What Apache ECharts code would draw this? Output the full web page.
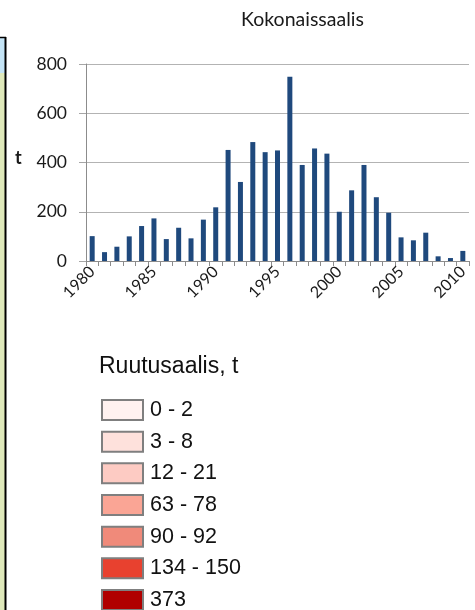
<!DOCTYPE html>
<html>
<head>
<meta charset="utf-8">
<script src="https://cdn.jsdelivr.net/npm/echarts@6/dist/echarts.min.js"></script>
<style>
  html, body { margin: 0; padding: 0; background: #fff; }
  #chart { width: 475px; height: 610px; }
</style>
</head>
<body>
<div id="chart"></div>
<script>
// Annual total catch (t), 1980-2010
const years = ['1980','1981','1982','1983','1984','1985','1986','1987','1988','1989',
               '1990','1991','1992','1993','1994','1995','1996','1997','1998','1999',
               '2000','2001','2002','2003','2004','2005','2006','2007','2008','2009','2010'];
const totalCatch = [101, 36, 58, 100, 142, 173, 89, 135, 92, 168,
                    218, 451, 321, 483, 442, 449, 748, 390, 457, 436,
                    200, 287, 390, 259, 196, 96, 84, 115, 19, 12, 41];
const yTicks = { min: 0, max: 800, interval: 200 };

// Grid-square catch classes for the map key
const classLabels = ['0 - 2', '3 - 8', '12 - 21', '63 - 78', '90 - 92', '134 - 150', '373'];
const classColors = ['#fff2f0', '#fee1dc', '#fdcbc3', '#faa595', '#f08a7a', '#e8412f', '#b00000'];

const chart = echarts.init(document.getElementById('chart'), null, { renderer: 'canvas' });

const keySeries = classLabels.map((name, i) => ({
  name: name,
  type: 'scatter',
  data: [],
  itemStyle: { color: classColors[i], opacity: 1, borderColor: '#7f7f7f', borderWidth: 1 }
}));

// one key row per class, stacked at a fixed pitch
const keyTop = 399, keyPitch = 31.67;
const keyLegends = classLabels.map((name, i) => ({
  orient: 'vertical',
  left: 101, top: keyTop + i * keyPitch,
  padding: 0,
  itemWidth: 41, itemHeight: 20,
  icon: 'rect',
  selectedMode: false,
  data: [name],
  textStyle: { fontFamily: 'Liberation Sans', fontSize: 21.5, color: '#111', padding: [0, 0, 0, 2] }
}));

const chartFont = 'Lato';

chart.setOption({
  animation: false,
  backgroundColor: '#ffffff',
  textStyle: { fontFamily: chartFont },
  title: [
    { text: 'Kokonaissaalis', left: 241, top: 10, padding: 0,
      textStyle: { fontFamily: chartFont, fontSize: 19.5, fontWeight: 'normal', color: '#1a1a1a' } },
    { text: 't', left: 15, top: 149, padding: 0,
      textStyle: { fontFamily: chartFont, fontSize: 18, fontWeight: 'bold', color: '#1a1a1a' } },
    { text: 'Ruutusaalis, t', left: 99, top: 355, padding: 0,
      textStyle: { fontFamily: 'Liberation Sans', fontSize: 23, fontWeight: 'normal', color: '#111' } }
  ],
  legend: keyLegends,
  grid: { left: 86, right: 6, top: 64, bottom: 349, containLabel: false },
  xAxis: {
    type: 'category',
    data: years,
    boundaryGap: true,
    axisLine: { show: true, lineStyle: { color: '#8c8c8c', width: 1 } },
    axisTick: { show: true, interval: 0, length: 5, lineStyle: { color: '#8c8c8c' } },
    axisLabel: {
      interval: 4, rotate: 45, margin: 8,
      fontFamily: chartFont, fontSize: 16, color: '#1a1a1a'
    },
    splitLine: { show: false }
  },
  yAxis: {
    type: 'value',
    min: yTicks.min, max: yTicks.max, interval: yTicks.interval,
    axisLine: { show: true, lineStyle: { color: '#8c8c8c', width: 1 } },
    axisTick: { show: true, length: 7, lineStyle: { color: '#a6a6a6' } },
    axisLabel: { margin: 19, fontFamily: chartFont, fontSize: 17.5, color: '#1a1a1a' },
    splitLine: { show: true, lineStyle: { color: '#b3b3b3', width: 1 } }
  },
  graphic: [
    // edge of the neighbouring map panel
    { type: 'rect', shape: { x: 0, y: 37, width: 5, height: 36 }, style: { fill: '#c4e4f6' } },
    { type: 'rect', shape: { x: 0, y: 73, width: 5, height: 537 }, style: { fill: '#dfe9bb' } },
    { type: 'line', shape: { x1: 0, y1: 37.5, x2: 6, y2: 37.5 }, style: { stroke: '#000', lineWidth: 1.5 } },
    { type: 'line', shape: { x1: 5.5, y1: 37, x2: 5.5, y2: 610 }, style: { stroke: '#000', lineWidth: 2 } }
  ],
  series: [
    {
      name: 'Kokonaissaalis',
      type: 'bar',
      data: totalCatch,
      barWidth: 5,
      itemStyle: { color: '#1f497d' }
    }
  ].concat(keySeries)
});
</script>
</body>
</html>
